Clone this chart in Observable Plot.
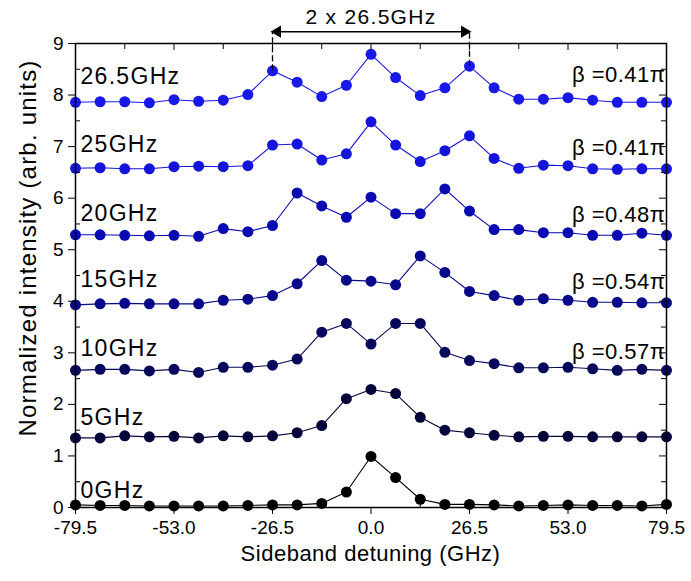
<!DOCTYPE html>
<html>
<head>
<meta charset="utf-8">
<script src="https://cdn.jsdelivr.net/npm/d3@7"></script>
<script src="https://cdn.jsdelivr.net/npm/@observablehq/plot@0.6"></script>
<style>
  body { margin: 0; background: #fff; }
  #chart { width: 691px; height: 581px; }
  svg { font-family: "Liberation Sans", Arial, sans-serif; }
</style>
</head>
<body>
<div id="chart"></div>
<script>
// ---- data ----
const detuning = [-79.5, -72.875, -66.25, -59.625, -53, -46.375, -39.75, -33.125, -26.5, -19.875, -13.25, -6.625, 0,
  6.625, 13.25, 19.875, 26.5, 33.125, 39.75, 46.375, 53, 59.625, 66.25, 72.875, 79.5];

const s0 = [0.05, 0.04, 0.04, 0.03, 0.03, 0.03, 0.03, 0.04, 0.05, 0.05, 0.08, 0.30, 0.99, 0.58, 0.16, 0.06, 0.06, 0.05, 0.03, 0.04, 0.05, 0.04, 0.04, 0.03, 0.06];
const s5 = [1.35, 1.35, 1.39, 1.37, 1.38, 1.35, 1.39, 1.37, 1.39, 1.45, 1.59, 2.11, 2.29, 2.21, 1.75, 1.50, 1.45, 1.40, 1.37, 1.38, 1.38, 1.37, 1.37, 1.37, 1.37];
const s10 = [2.66, 2.68, 2.68, 2.65, 2.68, 2.62, 2.72, 2.72, 2.76, 2.88, 3.40, 3.57, 3.17, 3.57, 3.57, 3.01, 2.85, 2.79, 2.71, 2.71, 2.72, 2.69, 2.66, 2.68, 2.66];
const s15 = [3.93, 3.95, 3.96, 3.95, 3.95, 3.95, 4.02, 4.04, 4.11, 4.34, 4.79, 4.41, 4.39, 4.32, 4.88, 4.56, 4.19, 4.11, 4.02, 4.05, 4.02, 3.98, 3.98, 3.97, 3.97];
const s20 = [5.29, 5.29, 5.28, 5.27, 5.28, 5.26, 5.41, 5.35, 5.47, 6.10, 5.85, 5.63, 6.02, 5.70, 5.70, 6.18, 5.75, 5.39, 5.39, 5.33, 5.33, 5.28, 5.28, 5.32, 5.28];
const s25 = [6.58, 6.59, 6.57, 6.57, 6.61, 6.62, 6.61, 6.63, 7.03, 7.05, 6.74, 6.86, 7.48, 7.03, 6.71, 6.92, 7.21, 6.77, 6.58, 6.64, 6.63, 6.57, 6.56, 6.57, 6.57];
const s265 = [7.86, 7.87, 7.87, 7.85, 7.91, 7.88, 7.90, 8.01, 8.47, 8.25, 7.97, 8.19, 8.79, 8.34, 7.99, 8.14, 8.56, 8.14, 7.92, 7.92, 7.95, 7.90, 7.86, 7.86, 7.86];

const seriesNames = ["0GHz", "5GHz", "10GHz", "15GHz", "20GHz", "25GHz", "26.5GHz"];
const seriesValues = [s0, s5, s10, s15, s20, s25, s265];
const betaLabels = ["", "", "β =0.57π", "β =0.54π", "β =0.48π", "β =0.41π", "β =0.41π"];

const xTicks = [-79.5, -53, -26.5, 0, 26.5, 53, 79.5];
const xMinor = [-66.25, -39.75, -13.25, 13.25, 39.75, 66.25];
const yTicks = [0, 1, 2, 3, 4, 5, 6, 7, 8, 9];
const yMinor = [0.5, 1.5, 2.5, 3.5, 4.5, 5.5, 6.5, 7.5, 8.5];
const spacingLabel = "2 x 26.5GHz";

// ---- styling / layout ----
const colors = ["#000000", "#05053c", "#07075c", "#08088a", "#0a0ab2", "#1414dc", "#1818e8"];
const labelY = [0.33, 1.74, 3.08, 4.42, 5.70, 7.03, 8.35];
const betaY = [0, 0, 3.02, 4.38, 5.68, 6.98, 8.39];

const W = 691, H = 581;
const mL = 75, mR = 25, mT = 43, mB = 74;
const iW = W - mL - mR, iH = H - mT - mB;

const points = [];
seriesValues.forEach((vals, k) => vals.forEach((v, i) => points.push({x: detuning[i], y: v, s: seriesNames[k], k})));

const labelRows = seriesNames.map((n, k) => ({n, k, y: labelY[k]}));
const betaRows = betaLabels.map((b, k) => ({b, k, y: betaY[k]})).filter(d => d.b);

const arrowY = 9.23;
const chart = Plot.plot({
  width: W, height: H,
  marginLeft: mL, marginRight: mR, marginTop: mT, marginBottom: mB,
  x: {domain: [-79.5, 79.5]},
  y: {domain: [0, 9]},
  style: {fontFamily: "'Liberation Sans', Arial, sans-serif", background: "white"},
  marks: [
    // series
    ...seriesValues.map((vals, k) => Plot.line(points.filter(p => p.k === k), {x: "x", y: "y", stroke: colors[k], strokeWidth: 1.1})),
    ...seriesValues.map((vals, k) => Plot.dot(points.filter(p => p.k === k), {x: "x", y: "y", r: 5.5, fill: colors[k], stroke: "none"})),
    // axes
    Plot.axisY({anchor: "left", ticks: yTicks, tickSize: 7, tickPadding: 5, fontSize: 19, label: null, tickFormat: d => String(d)}),
    Plot.axisX({anchor: "bottom", ticks: xTicks, tickSize: 7, tickPadding: 6, fontSize: 19, label: null, tickFormat: d => d.toFixed(1)}),
    Plot.tickY(yMinor, {y: d => d, insetRight: iW - 5, stroke: "black"}),
    Plot.tickY(yTicks, {y: d => d, insetLeft: iW - 7, stroke: "black"}),
    Plot.tickY(yMinor, {y: d => d, insetLeft: iW - 5, stroke: "black"}),
    Plot.tickX(xTicks, {x: d => d, insetBottom: iH - 7, stroke: "black"}),
    Plot.tickX(xMinor, {x: d => d, insetBottom: iH - 6, stroke: "black"}),
    Plot.tickX(xMinor, {x: d => d, insetTop: iH - 5, stroke: "black"}),
    Plot.frame({stroke: "black", strokeWidth: 1.5}),
    // series labels
    Plot.text(labelRows, {x: -79.5, y: "y", text: "n", textAnchor: "start", dx: 5, fontSize: 23, fill: "black", className: "lbl"}),
    Plot.text(betaRows, {x: 79.5, y: "y", text: "b", textAnchor: "end", dx: -1, fontSize: 22, fill: "black", className: "beta"}),
    // spacing annotation
    Plot.ruleX([{x: -26.5, y1: s265[8]}, {x: 26.5, y1: s265[16]}], {x: "x", y1: "y1", y2: arrowY, stroke: "black", strokeWidth: 1.3, strokeDasharray: "6,3"}),
    Plot.ruleY([arrowY], {x1: -26.5, x2: 26.5, stroke: "black", strokeWidth: 1.5}),
    Plot.dot([{x: -26.5}], {x: "x", y: arrowY, symbol: "triangle", rotate: -90, r: 4.5, fill: "black", dx: 5}),
    Plot.dot([{x: 26.5}], {x: "x", y: arrowY, symbol: "triangle", rotate: 90, r: 4.5, fill: "black", dx: -5}),
    Plot.text([spacingLabel], {x: 0, y: 9.5, text: d => d, fontSize: 21, fill: "black", className: "lbl"})
  ]
});

const svg = d3.select(chart);
svg.selectAll(".lbl text").attr("letter-spacing", "1.3px");
svg.selectAll(".beta text").attr("letter-spacing", "0.5px");
svg.selectAll("[aria-label='x-axis tick label'] text, [aria-label='y-axis tick label'] text")
  .style("font-size", "19px");
svg.selectAll("[aria-label='x-axis tick label'], [aria-label='y-axis tick label']")
  .style("font-size", "19px");
svg.style("overflow", "visible");

// axis titles
svg.append("text")
  .attr("x", mL + iW / 2).attr("y", H - 20)
  .attr("text-anchor", "middle").attr("font-size", 22).attr("fill", "black")
  .attr("letter-spacing", "0.5px")
  .text("Sideband detuning (GHz)");
svg.append("text")
  .attr("transform", `translate(${36},${248}) rotate(-90)`)
  .attr("text-anchor", "middle").attr("font-size", 24).attr("fill", "black")
  .attr("letter-spacing", "1.2px")
  .text("Normalized intensity (arb. units)");

document.getElementById("chart").appendChild(chart);
</script>
</body>
</html>
